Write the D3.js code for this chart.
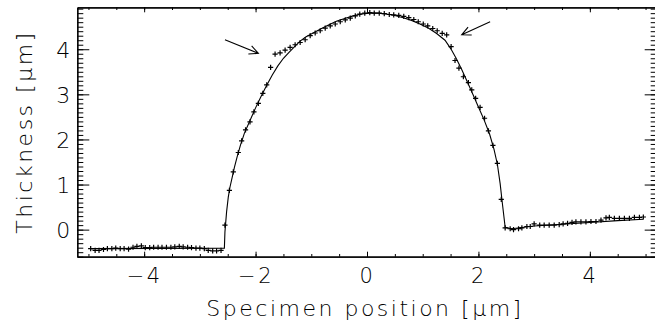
<!DOCTYPE html>
<html><head><meta charset="utf-8">
<script src="https://cdn.jsdelivr.net/npm/d3@7"></script>
<style>
html,body{margin:0;padding:0;background:#fff;}
svg{display:block;}
text{font-family:"DejaVu Sans",sans-serif;font-weight:200;fill:#000;}
</style></head>
<body>
<svg id="chart" width="655" height="327"></svg>
<script>
// ---- data ----
const measX = [
 -4.96,-4.88,-4.81,-4.73,-4.66,-4.58,-4.51,-4.43,-4.36,-4.28,-4.20,-4.13,-4.05,-3.98,-3.90,-3.83,
 -3.75,-3.68,-3.60,-3.52,-3.45,-3.37,-3.30,-3.22,-3.15,-3.07,-3.00,-2.92,-2.85,-2.77,-2.70,-2.62,
 -2.55,-2.47,-2.40,-2.31,-2.25,-2.18,-2.10,-2.03,-1.95,-1.87,-1.80,-1.73,-1.65,-1.56,-1.47,-1.38,
 -1.29,-1.20,-1.11,-1.02,-0.93,-0.84,-0.75,-0.66,-0.57,-0.48,-0.39,-0.30,-0.21,-0.13,-0.04,0.05,
 0.13,0.22,0.31,0.40,0.48,0.57,0.66,0.75,0.84,0.92,1.01,1.09,1.18,1.26,1.35,1.43,
 1.51,1.58,1.65,1.73,1.82,1.88,1.95,2.03,2.11,2.18,2.26,2.34,2.41,
 2.48,2.57,2.63,2.72,2.78,2.87,2.93,3.00,3.10,3.18,3.27,3.36,3.45,3.52,3.60,3.68,
 3.75,3.84,3.93,4.02,4.11,4.20,4.29,4.35,4.44,4.53,4.62,4.71,4.80,4.89,4.96
];
const measY = [
 -0.42,-0.46,-0.46,-0.44,-0.42,-0.42,-0.41,-0.42,-0.42,-0.43,-0.39,-0.37,-0.36,-0.40,-0.40,-0.39,
 -0.39,-0.39,-0.39,-0.39,-0.38,-0.37,-0.38,-0.39,-0.40,-0.41,-0.41,-0.42,-0.46,-0.47,-0.47,-0.46,
 0.10,0.87,1.28,1.71,1.97,2.21,2.39,2.61,2.80,3.02,3.21,3.60,3.89,3.92,3.98,4.04,
 4.10,4.15,4.21,4.30,4.36,4.41,4.47,4.52,4.56,4.61,4.65,4.69,4.74,4.78,4.80,4.81,
 4.80,4.80,4.79,4.77,4.76,4.75,4.73,4.70,4.66,4.61,4.56,4.52,4.46,4.41,4.35,4.32,
 4.06,3.75,3.58,3.39,3.26,3.10,2.91,2.71,2.47,2.19,1.87,1.47,0.67,
 0.04,0.02,0.00,0.02,0.04,0.07,0.07,0.13,0.10,0.10,0.10,0.10,0.11,0.13,0.14,0.16,
 0.17,0.17,0.17,0.18,0.18,0.21,0.26,0.27,0.25,0.25,0.25,0.25,0.27,0.27,0.28
];
const fitX = [
 -4.96,-2.56,-2.55,-2.52,-2.49,-2.46,-2.42,-2.38,-2.33,-2.27,-2.20,-2.10,-2.00,-1.90,-1.80,-1.70,
 -1.60,-1.50,-1.40,-1.30,-1.20,-1.10,-1.00,-0.85,-0.70,-0.55,-0.40,-0.25,-0.10,0.05,0.20,0.35,
 0.50,0.65,0.80,0.95,1.10,1.25,1.40,1.50,1.60,1.70,1.80,1.90,2.00,2.10,2.20,2.28,
 2.34,2.39,2.43,2.48,2.60,3.00,3.50,4.00,4.50,4.96
];
const fitY = [
 -0.42,-0.41,-0.05,0.40,0.72,0.94,1.16,1.38,1.62,1.88,2.14,2.42,2.70,2.96,3.20,3.43,
 3.63,3.80,3.93,4.06,4.18,4.27,4.34,4.44,4.53,4.62,4.68,4.74,4.78,4.80,4.80,4.78,
 4.75,4.70,4.64,4.56,4.47,4.35,4.20,4.02,3.80,3.55,3.28,3.00,2.72,2.44,2.12,1.78,
 1.45,1.02,0.58,0.05,0.02,0.08,0.12,0.16,0.20,0.23
];
// annotation arrows (tail -> tip), data units
const arrows = [
 {x0:-2.55, y0:4.21, x1:-1.95, y1:3.91},
 {x0: 2.21, y0:4.61, x1: 1.70, y1:4.32}
];
const xMajor = [-4,-2,0,2,4];
const yMajor = [0,1,2,3,4];
const xTitle = "Specimen position [\u03bcm]";
const yTitle = "Thickness [\u03bcm]";

// ---- layout ----
const L = 77.3, R = 656.7, T = 7.3, B = 256.7;
const x = d3.scaleLinear().domain([-5.2, 5.2]).range([L, R]);
const y = d3.scaleLinear().domain([-0.6, 4.93]).range([B, T]);
const FONT = '"DejaVu Sans",sans-serif';

const svg = d3.select("#chart");
const fmt = d => d < 0 ? "\u2212" + Math.abs(d) : String(d);
const xMinor = d3.range(-10, 11).map(i => i / 2);
const yMinor = d3.range(-6, 50).map(i => i / 10);

function styleAxis(g){
  g.selectAll("path.domain").attr("stroke","#000").attr("stroke-width",1.2);
  g.selectAll("line").attr("stroke","#000").attr("stroke-width",1);
}
// bottom
svg.append("g").attr("transform",`translate(0,${B})`)
  .call(d3.axisBottom(x).tickValues(xMinor).tickSizeInner(-2.7).tickSizeOuter(0).tickFormat(""))
  .call(styleAxis);
const gb = svg.append("g").attr("transform",`translate(0,${B})`)
  .call(d3.axisBottom(x).tickValues(xMajor).tickSizeInner(-5).tickSizeOuter(0).tickFormat(fmt))
  .call(styleAxis);
gb.selectAll("text").attr("y",26.6).attr("dy",null).attr("font-size",21).attr("letter-spacing",2.5)
  .attr("font-family",FONT).attr("font-weight",200).attr("fill","#000");
// top
svg.append("g").attr("transform",`translate(0,${T})`)
  .call(d3.axisTop(x).tickValues(xMinor).tickSizeInner(-2.7).tickSizeOuter(0).tickFormat(""))
  .call(styleAxis);
svg.append("g").attr("transform",`translate(0,${T})`)
  .call(d3.axisTop(x).tickValues(xMajor).tickSizeInner(-5).tickSizeOuter(0).tickFormat(""))
  .call(styleAxis);
// left
svg.append("g").attr("transform",`translate(${L},0)`)
  .call(d3.axisLeft(y).tickValues(yMinor).tickSizeInner(-6).tickSizeOuter(0).tickFormat(""))
  .call(styleAxis);
const gl = svg.append("g").attr("transform",`translate(${L},0)`)
  .call(d3.axisLeft(y).tickValues(yMajor).tickSizeInner(-12).tickSizeOuter(0).tickPadding(7).tickFormat(fmt))
  .call(styleAxis);
gl.selectAll("text").attr("font-size",22).attr("dy","0.36em")
  .attr("font-family",FONT).attr("font-weight",200).attr("fill","#000");
// right
svg.append("g").attr("transform",`translate(${R},0)`)
  .call(d3.axisRight(y).tickValues(yMinor).tickSizeInner(-6).tickSizeOuter(0).tickFormat(""))
  .call(styleAxis);
svg.append("g").attr("transform",`translate(${R},0)`)
  .call(d3.axisRight(y).tickValues(yMajor).tickSizeInner(-12).tickSizeOuter(0).tickFormat(""))
  .call(styleAxis);

// fit line
const fit = fitX.map((v,i)=>[v, fitY[i]]);
svg.append("path").datum(fit)
  .attr("fill","none").attr("stroke","#000").attr("stroke-width",1.1)
  .attr("d", d3.line().x(d=>x(d[0])).y(d=>y(d[1])).curve(d3.curveLinear));

// measured points as small plus markers
const pts = measX.map((v,i)=>[v, measY[i]]);
const s = 2.6;
svg.append("path")
  .attr("fill","none").attr("stroke","#000").attr("stroke-width",1.2)
  .attr("d", pts.map(d=>{const px=x(d[0]), py=y(d[1]);
     return `M${px-s},${py}h${2*s}M${px},${py-s}v${2*s}`;}).join(""));

// arrows
arrows.forEach(a=>{
  const x0=x(a.x0), y0=y(a.y0), x1=x(a.x1), y1=y(a.y1);
  const ang=Math.atan2(y1-y0,x1-x0), hl=10, ha=0.45;
  svg.append("path").attr("fill","none").attr("stroke","#000").attr("stroke-width",1.1)
    .attr("d",`M${x0},${y0}L${x1},${y1}M${x1-hl*Math.cos(ang-ha)},${y1-hl*Math.sin(ang-ha)}L${x1},${y1}L${x1-hl*Math.cos(ang+ha)},${y1-hl*Math.sin(ang+ha)}`);
});

// titles
svg.append("text").attr("x",365).attr("y",316)
  .attr("text-anchor","middle").attr("font-size",22).attr("letter-spacing",2.5)
  .text(xTitle);
svg.append("text").attr("transform",`translate(32,${(T+B)/2}) rotate(-90)`)
  .attr("text-anchor","middle").attr("font-size",22).attr("letter-spacing",2.5)
  .text(yTitle);
</script>
</body></html>
